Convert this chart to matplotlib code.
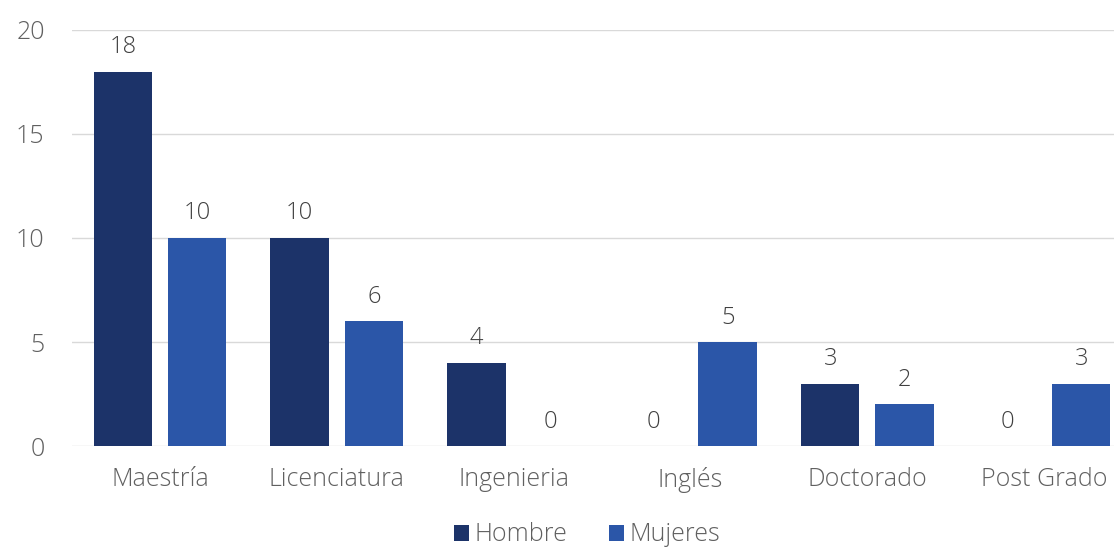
import numpy as np
import matplotlib.pyplot as plt

plt.rcParams['font.family'] = ['Open Sans', 'DejaVu Sans']
plt.rcParams['font.weight'] = 'light'

categorias = ["Maestría", "Licenciatura", "Ingenieria", "Inglés", "Doctorado", "Post Grado"]
hombre = [18, 10, 4, 0, 3, 0]
mujeres = [10, 6, 0, 5, 2, 3]
yticks = [0, 5, 10, 15, 20]

color_h = "#1c3369"
color_m = "#2b56a8"
gris = "#606060"

fig = plt.figure(figsize=(11.14, 5.47), dpi=100)
ax = fig.add_axes([0.065, 0.1846, 0.935, 0.7606])

x = np.arange(len(categorias))
w = 0.33
off = 0.21
b1 = ax.bar(x - off, hombre, w, color=color_h, label="Hombre", zorder=3)
b2 = ax.bar(x + off, mujeres, w, color=color_m, label="Mujeres", zorder=3)

for barras in (b1, b2):
    for r in barras:
        h = r.get_height()
        ax.annotate(f"{h:.0f}", (r.get_x() + r.get_width() / 2, h),
                    xytext=(0, 9), textcoords="offset points",
                    ha="center", va="bottom", fontsize=17, color="#404040")

ax.set_xlim(-0.495, 5.395)
ax.set_ylim(0, 20)
ax.set_yticks(yticks)
ax.set_xticks(x)
ax.set_xticklabels(categorias)
ax.tick_params(axis="both", length=0, labelsize=18, colors=gris)
ax.tick_params(axis="x", pad=15)
ax.tick_params(axis="y", pad=20)
ax.grid(axis="y", color="#d9d9d9", linewidth=1, zorder=0)
for s in ax.spines.values():
    s.set_visible(False)

leg = fig.legend(loc="center", bbox_to_anchor=(0.527, 0.022), ncol=2, frameon=False,
                 fontsize=18, handlelength=0.6, handleheight=0.6, handletextpad=0.2,
                 columnspacing=1.7, borderaxespad=0, borderpad=0)
for t in leg.get_texts():
    t.set_color(gris)

fig.savefig("out.png", dpi=100)
